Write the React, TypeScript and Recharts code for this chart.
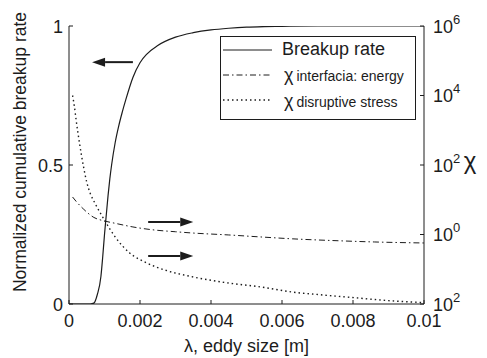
import {
  Label,
  Legend,
  Line,
  LineChart,
  ReferenceLine,
  XAxis,
  YAxis,
} from "recharts";

const FONT = "'Liberation Sans', Arial, Helvetica, sans-serif";
const INK = "#1c1c1c";

// tick positions / labels as printed on the figure
const xTicks = [0, 0.002, 0.004, 0.006, 0.008, 0.01];
const leftTicks = [0, 0.5, 1];
const rightTicks = [1e-2, 1, 1e2, 1e4, 1e6];
const rightTickExponents = ["2", "0", "2", "4", "6"];

// normalized cumulative breakup rate (left axis)
const breakupRate = [
  { x: 0, y: 0 },
  { x: 0.0006, y: 0 },
  { x: 0.0007, y: 0.003 },
  { x: 0.0008, y: 0.035 },
  { x: 0.0009, y: 0.1 },
  { x: 0.00095, y: 0.17 },
  { x: 0.001, y: 0.25 },
  { x: 0.00105, y: 0.32 },
  { x: 0.0011, y: 0.39 },
  { x: 0.00115, y: 0.45 },
  { x: 0.0012, y: 0.5 },
  { x: 0.0013, y: 0.58 },
  { x: 0.0014, y: 0.64 },
  { x: 0.0015, y: 0.69 },
  { x: 0.0016, y: 0.735 },
  { x: 0.0018, y: 0.815 },
  { x: 0.002, y: 0.868 },
  { x: 0.0022, y: 0.9 },
  { x: 0.0025, y: 0.93 },
  { x: 0.003, y: 0.96 },
  { x: 0.0035, y: 0.976 },
  { x: 0.004, y: 0.986 },
  { x: 0.0045, y: 0.992 },
  { x: 0.005, y: 0.996 },
  { x: 0.0055, y: 0.998 },
  { x: 0.006, y: 0.999 },
  { x: 0.007, y: 1 },
  { x: 0.01, y: 1 },
];

// chi, interfacial energy criterion (right axis, log)
const chiInterfacial = [
  { x: 0.0001, y: 12 },
  { x: 0.0002, y: 9 },
  { x: 0.0004, y: 5.5 },
  { x: 0.0007, y: 3.1 },
  { x: 0.001, y: 2.45 },
  { x: 0.0013, y: 2.1 },
  { x: 0.0018, y: 1.65 },
  { x: 0.0024, y: 1.35 },
  { x: 0.003, y: 1.2 },
  { x: 0.0035, y: 1.1 },
  { x: 0.0045, y: 0.97 },
  { x: 0.0054, y: 0.85 },
  { x: 0.0063, y: 0.75 },
  { x: 0.0076, y: 0.66 },
  { x: 0.0086, y: 0.61 },
  { x: 0.01, y: 0.57 },
];

// chi, disruptive stress criterion (right axis, log)
const chiDisruptive = [
  { x: 0.0001, y: 10000 },
  { x: 0.00015, y: 5000 },
  { x: 0.0002, y: 2000 },
  { x: 0.0003, y: 400 },
  { x: 0.0004, y: 100 },
  { x: 0.0005, y: 32 },
  { x: 0.0006, y: 15 },
  { x: 0.00073, y: 8 },
  { x: 0.001, y: 2.6 },
  { x: 0.0013, y: 0.85 },
  { x: 0.0017, y: 0.3 },
  { x: 0.0022, y: 0.15 },
  { x: 0.0027, y: 0.095 },
  { x: 0.0035, y: 0.06 },
  { x: 0.0045, y: 0.04 },
  { x: 0.0054, y: 0.031 },
  { x: 0.0063, y: 0.022 },
  { x: 0.0072, y: 0.018 },
  { x: 0.0081, y: 0.015 },
  { x: 0.009, y: 0.0125 },
  { x: 0.01, y: 0.011 },
];

// annotation arrows, in (x, left-axis y) data units
const arrows = [
  { from: [0.0018, 0.87], to: [0.00065, 0.87] },
  { from: [0.00223, 0.295], to: [0.0035, 0.295] },
  { from: [0.00223, 0.173], to: [0.0035, 0.173] },
];

const DASH_DOT = "6 3 1.5 3";
const DOTTED = "1.5 3";

const legendItems = [
  { key: "breakup", chi: false, text: "Breakup rate", dash: undefined },
  { key: "interfacial", chi: true, text: "interfacia: energy", dash: DASH_DOT },
  { key: "disruptive", chi: true, text: "disruptive stress", dash: DOTTED },
];

const renderBottomTick = ({ x, y, payload }: any) => (
  <g>
    <line x1={x} y1={y} x2={x} y2={y - 4} stroke={INK} />
    <text x={x} y={y + 23} textAnchor="middle" fontSize={18} fontFamily={FONT} fill={INK}>
      {String(payload.value)}
    </text>
  </g>
);

const renderTopTick = ({ x, y }: any) => (
  <line x1={x} y1={y} x2={x} y2={y + 4} stroke={INK} />
);

const renderLeftTick = ({ x, y, payload }: any) => (
  <g>
    <line x1={x} y1={y} x2={x + 4} y2={y} stroke={INK} />
    <text x={x - 6} y={y + 6.5} textAnchor="end" fontSize={18} fontFamily={FONT} fill={INK}>
      {String(payload.value)}
    </text>
  </g>
);

const renderRightTick = ({ x, y, payload }: any) => {
  const exp = rightTickExponents[rightTicks.indexOf(payload.value)];
  return (
    <g>
      <line x1={x} y1={y} x2={x - 4} y2={y} stroke={INK} />
      <text x={x + 9} y={y + 6.5} fontSize={18} fontFamily={FONT} fill={INK}>
        10
        <tspan fontSize={13} dy={-9}>
          {exp}
        </tspan>
      </text>
    </g>
  );
};

const Arrow = (props: any) => {
  const { x1, y1, x2, y2 } = props;
  const len = Math.hypot(x2 - x1, y2 - y1) || 1;
  const ux = (x2 - x1) / len;
  const uy = (y2 - y1) / len;
  const head = 13;
  const half = 4.5;
  const bx = x2 - ux * head;
  const by = y2 - uy * head;
  return (
    <g>
      <line x1={x1} y1={y1} x2={bx} y2={by} stroke={INK} strokeWidth={2} />
      <polygon
        points={`${x2},${y2} ${bx - uy * half},${by + ux * half} ${bx + uy * half},${by - ux * half}`}
        fill={INK}
      />
    </g>
  );
};

const renderLegend = () => (
  <svg width={196} height={84} style={{ display: "block" }}>
    <rect x={0.5} y={0.5} width={195} height={83} fill="#fff" stroke={INK} />
    {legendItems.map((item, i) => (
      <g key={item.key}>
        <line
          x1={3}
          x2={52}
          y1={14 + 25 * i}
          y2={14 + 25 * i}
          stroke={INK}
          strokeWidth={item.dash === DOTTED ? 1.4 : 1}
          strokeDasharray={item.dash}
        />
        <text x={item.chi ? 64 : 62} y={19 + 26 * i} fontFamily={FONT} fill={INK} fontSize={18}>
          {item.chi ? "χ" : item.text}
          {item.chi && (
            <tspan dx={3} fontSize={14}>
              {item.text}
            </tspan>
          )}
        </text>
      </g>
    ))}
  </svg>
);

export default function App() {
  return (
    <div style={{ position: "absolute", left: 0, top: 0 }}>
      <LineChart width={487} height={358} margin={{ top: 26, right: 0, bottom: 0, left: 0 }}>
        <XAxis
          dataKey="x"
          type="number"
          domain={[0, 0.01]}
          ticks={xTicks}
          interval={0}
          allowDataOverflow
          height={54}
          stroke={INK}
          tickLine={false}
          tickSize={0}
          tickMargin={0}
          tick={renderBottomTick}
        >
          <Label
            content={({ viewBox }: any) => (
              <text
                x={viewBox.x + viewBox.width / 2}
                y={viewBox.y + 48}
                textAnchor="middle"
                fontSize={18}
                fontFamily={FONT}
                fill={INK}
              >
                λ, eddy size [m]
              </text>
            )}
          />
        </XAxis>
        <XAxis
          xAxisId="top"
          orientation="top"
          dataKey="x"
          type="number"
          domain={[0, 0.01]}
          ticks={xTicks}
          interval={0}
          height={0}
          stroke={INK}
          tickLine={false}
          tickSize={0}
          tickMargin={0}
          tick={renderTopTick}
        />
        <YAxis
          yAxisId="left"
          domain={[0, 1]}
          ticks={leftTicks}
          interval={0}
          allowDataOverflow
          width={69}
          stroke={INK}
          tickLine={false}
          tickSize={0}
          tickMargin={0}
          tick={renderLeftTick}
        >
          <Label
            content={({ viewBox }: any) => {
              const cx = viewBox.x + 26;
              const cy = viewBox.y + viewBox.height / 2 - 13;
              return (
                <text
                  x={cx}
                  y={cy}
                  transform={`rotate(-90 ${cx} ${cy})`}
                  textAnchor="middle"
                  fontSize={17.5}
                  fontFamily={FONT}
                  fill={INK}
                >
                  Normalized cumulative breakup rate
                </text>
              );
            }}
          />
        </YAxis>
        <YAxis
          yAxisId="right"
          orientation="right"
          scale="log"
          domain={[1e-2, 1e6]}
          ticks={rightTicks}
          interval={0}
          allowDataOverflow
          width={63}
          stroke={INK}
          tickLine={false}
          tickSize={0}
          tickMargin={0}
          tick={renderRightTick}
        >
          <Label
            content={({ viewBox }: any) => (
              <text
                x={viewBox.x + 46}
                y={viewBox.y + viewBox.height / 2 + 4}
                textAnchor="middle"
                fontSize={24}
                fontFamily={FONT}
                fill={INK}
              >
                χ
              </text>
            )}
          />
        </YAxis>
        <Legend
          layout="horizontal"
          verticalAlign="middle"
          align="center"
          content={renderLegend}
          wrapperStyle={{ left: 220, top: 36, width: 196, height: 84 }}
        />
        <Line
          yAxisId="right"
          data={chiInterfacial}
          dataKey="y"
          type="monotone"
          stroke={INK}
          strokeWidth={1}
          strokeDasharray={DASH_DOT}
          dot={false}
          activeDot={false}
          isAnimationActive={false}
        />
        <Line
          yAxisId="right"
          data={chiDisruptive}
          dataKey="y"
          type="monotone"
          stroke={INK}
          strokeWidth={1.4}
          strokeDasharray={DOTTED}
          dot={false}
          activeDot={false}
          isAnimationActive={false}
        />
        <Line
          yAxisId="left"
          data={breakupRate}
          dataKey="y"
          type="monotone"
          stroke={INK}
          strokeWidth={1.2}
          dot={false}
          activeDot={false}
          isAnimationActive={false}
        />
        {arrows.map((a, i) => (
          <ReferenceLine
            key={`arrow-${i}`}
            yAxisId="left"
            segment={[
              { x: a.from[0], y: a.from[1] },
              { x: a.to[0], y: a.to[1] },
            ]}
            shape={Arrow}
          />
        ))}
      </LineChart>
    </div>
  );
}
